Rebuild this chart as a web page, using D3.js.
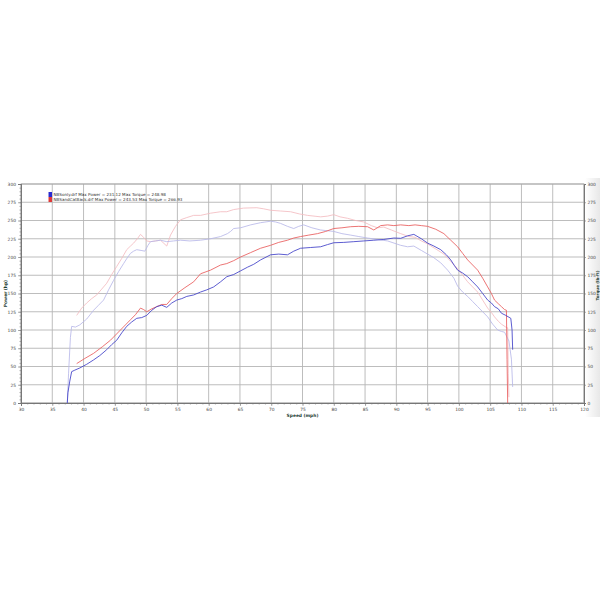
<!DOCTYPE html>
<html>
<head>
<meta charset="utf-8">
<script src="https://cdn.jsdelivr.net/npm/d3@7"></script>
<style>
  body { margin: 0; background: #fff; }
  svg { display: block; }
  text { font-family: "DejaVu Sans", sans-serif; }
</style>
</head>
<body>
<div id="chart"></div>
<script>
// speed (mph) / value pairs
var bluePower = [[37.4,0],[37.5,14],[37.8,30],[38.1,43],[38.6,45],[39.4,48],[40.5,53],[41.6,59],[42.6,65],[43.7,73],[44.5,80],[45.3,86],[46.1,96],[46.9,105],[47.7,111],[48.5,116],[49.3,117],[50.1,120],[50.9,127],[51.7,132],[52.5,134],[53.3,131],[54.1,137],[54.9,141],[55.7,143],[56.5,146],[57.6,148],[58.7,152],[59.7,155],[60.8,159],[61.9,166],[62.9,173],[64,176],[65.1,181],[66.2,186],[67.2,190],[68.3,196],[69.9,203],[71.2,204],[72.6,203],[73.6,208],[74.7,212],[76.3,213],[77.9,214],[79,217],[80,219.5],[81.6,220],[83.2,221],[84.8,222],[86.4,223],[88,224],[89.6,226],[90.7,225.6],[91.8,229],[92.8,231],[94,225],[95,219],[96,215],[97.1,210],[98,203],[98.7,196],[99.3,188],[99.8,182],[100.6,178],[101.4,173],[102.2,166],[103,159],[103.8,150],[104.6,141],[105.2,137],[105.7,132],[106.3,129],[106.8,123],[107.5,120],[108.3,116],[108.5,100],[108.6,73]];

var redPower = [[38.9,54],[40.2,61],[41.6,68],[43,77],[44.3,86],[45.1,93],[45.9,100],[46.7,107],[47.5,114],[48.3,121],[49.1,130],[49.6,128],[50.1,125],[50.9,129],[51.7,132],[52.5,135],[53.3,135],[54.1,143],[54.9,150],[56.2,158],[57.6,166],[58.7,177],[60.3,182],[61.9,189],[62.9,191],[64,195],[65.1,200],[66.7,206],[68.3,212],[69.9,216],[71.2,220],[72.6,223],[73.6,226],[74.7,228],[76,230],[77.4,232],[78.7,235],[80,239],[81.3,240],[82.7,241.5],[84,242],[85.4,241.5],[86.4,237],[87.5,243],[88.6,244],[89.6,243],[90.7,244],[92,243],[93,244],[94,243],[95,242],[96.3,238],[97.6,232],[98.7,223],[99.8,214],[100.6,205],[101.4,196],[102.2,189],[103,182],[103.8,171],[104.6,159],[105.2,150],[105.7,141],[106.3,136],[106.8,132],[107.3,128],[107.6,127],[107.7,60],[107.8,0]];

var blueTorque = [[37.4,0],[37.6,40],[37.9,90],[38.1,105],[38.7,104],[39.4,107],[40.5,115],[41.6,127],[42.4,134],[43.2,141],[44,155],[44.8,168],[45.6,180],[46.4,191],[47,199],[47.5,205],[48,208],[48.5,210],[49.2,209],[49.8,208],[50.3,216],[50.7,221],[51.5,222],[52.3,223],[53.3,221],[54.4,222],[55.5,223],[57,222],[58.7,223],[60.3,225],[61.9,228],[63,232],[63.5,235],[64,239],[65.1,240],[66.7,244],[68.3,247],[69.9,249],[70.7,248],[71.5,246],[72.6,242],[73.6,239],[74.4,242],[75.2,244],[76.5,240],[77.9,237],[79,236],[80,235],[81.3,232],[82.7,230],[84,228],[85.4,226],[87,224],[88.6,222],[90.7,216],[91.8,214],[92.8,215],[94,209],[95,204],[96,199],[97.1,192],[98.2,182],[99.2,171],[99.8,160],[100.6,152],[101.4,146],[102.2,139],[103,132],[103.8,125],[104.6,118],[105.4,108],[106.2,100],[106.8,98],[107.3,97],[108,85],[108.4,60],[108.6,22]];

var redTorque = [[38.9,120],[39.7,130],[40.5,137],[41.3,143],[42.1,148],[42.9,156],[43.7,164],[44.5,176],[45.3,187],[46.1,198],[46.9,210],[47.5,215],[48,219],[48.6,225],[49.1,231],[49.6,227],[50.1,222],[50.7,221],[51.5,222],[52.3,223],[53.3,215],[53.9,230],[54.7,242],[55.5,251],[56.5,254],[57.6,257],[58.7,257],[60.3,260],[61.9,262],[62.9,262],[64,265],[65.6,267],[67.7,267.5],[68.8,266],[69.9,264],[71.5,263],[73.1,262],[74.5,259],[75.8,257],[77.9,255],[79,256],[80,258],[81,255],[82.2,253],[83.5,250],[84.8,248],[86,243],[87,240],[88,241],[89.2,237],[90.7,232],[92,228],[93,227],[94,222],[95,218],[96.3,211],[97.6,204],[98.7,194],[99.8,184],[100.6,175],[101.4,166],[102.2,159],[103,152],[103.8,141],[104.6,130],[105.2,124],[105.7,118],[106.3,112],[106.8,108],[107.5,104],[107.8,103],[107.9,40],[108,8]];

var xTicks = d3.range(30, 121, 5);
var yTicks = d3.range(0, 301, 25);

var legendItems = [
  {name: "NBSonly.drf Max Power = 231.12 Max Torque = 248.98", color: "#2a2ad0"},
  {name: "NBSandCatBack.drf Max Power = 243.53 Max Torque = 266.93", color: "#e03838"}
];

var width = 600, height = 600;
var margin = {top: 184, right: 16, bottom: 197, left: 21};
var w = width - margin.left - margin.right;
var h = height - margin.top - margin.bottom;

var x = d3.scaleLinear().domain([30, 120]).range([0, w]);
var y = d3.scaleLinear().domain([0, 300]).range([h, 0]);

var svg = d3.select("#chart").append("svg")
  .attr("width", width)
  .attr("height", height);

// faint shading to the right of the plot
var grad = svg.append("defs").append("linearGradient")
  .attr("id", "shade").attr("x1", "0").attr("x2", "1");
grad.append("stop").attr("offset", "0").attr("stop-color", "#fff");
grad.append("stop").attr("offset", "1").attr("stop-color", "#e6e6e6");
svg.append("rect")
  .attr("x", margin.left + w + 1).attr("y", margin.top - 6)
  .attr("width", 16).attr("height", h + 20)
  .attr("fill", "url(#shade)");

var g = svg.append("g")
  .attr("transform", "translate(" + margin.left + "," + margin.top + ")");

// grid
g.selectAll(".vgrid").data(xTicks).enter().append("line")
  .attr("x1", function(d) { return x(d); }).attr("x2", function(d) { return x(d); })
  .attr("y1", 0).attr("y2", h)
  .attr("stroke", "#b6b6b6").attr("stroke-width", 0.9);

g.selectAll(".hgrid").data(yTicks).enter().append("line")
  .attr("x1", 0).attr("x2", w)
  .attr("y1", function(d) { return y(d); }).attr("y2", function(d) { return y(d); })
  .attr("stroke", "#b6b6b6").attr("stroke-width", 0.9);

g.append("rect")
  .attr("width", w).attr("height", h)
  .attr("fill", "none").attr("stroke", "#a0a0a0").attr("stroke-width", 0.8);

// axes
var xAxis = d3.axisBottom(x).tickValues(xTicks).tickSize(3).tickPadding(2);
var xMinor = d3.axisBottom(x).tickValues(d3.range(30, 121, 1)).tickSize(1.5).tickFormat("");
var yAxis = d3.axisLeft(y).tickValues(yTicks).tickSize(3).tickPadding(2);
var yMinor = d3.axisLeft(y).tickValues(d3.range(0, 301, 5)).tickSize(1.5).tickFormat("");
var yRight = d3.axisRight(y).tickValues(yTicks).tickSize(2).tickPadding(1.5);

function styleAxis(sel) {
  sel.select(".domain").attr("stroke", "#777").attr("stroke-width", 1);
  sel.selectAll(".tick line").attr("stroke", "#777").attr("stroke-width", 0.6);
  sel.selectAll(".tick text").attr("font-size", 4.4).attr("fill", "#444");
}

g.append("g").attr("transform", "translate(0," + h + ")").call(xMinor).call(styleAxis);
g.append("g").attr("transform", "translate(0," + h + ")").call(xAxis).call(styleAxis);
g.append("g").call(yMinor).call(styleAxis);
g.append("g").call(yAxis).call(styleAxis);
g.append("g").attr("transform", "translate(" + w + ",0)").call(yRight).call(styleAxis);

// axis titles
g.append("text")
  .attr("transform", "translate(-14," + (h / 2) + ") rotate(-90)")
  .attr("text-anchor", "middle")
  .attr("font-size", 4.4).attr("font-weight", "bold").attr("fill", "#1d3d33")
  .text("Power (hp)");

g.append("text")
  .attr("transform", "translate(" + (w + 14.5) + "," + (h / 2 - 8) + ") rotate(-90)")
  .attr("text-anchor", "middle")
  .attr("font-size", 4).attr("font-weight", "bold").attr("fill", "#1d3d33")
  .text("Torque (lb-ft)");

g.append("text")
  .attr("x", x(75)).attr("y", h + 14)
  .attr("text-anchor", "middle")
  .attr("font-size", 4.4).attr("font-weight", "bold").attr("fill", "#1d3d33")
  .text("Speed (mph)");

// curves
var line = d3.line()
  .x(function(d) { return x(d[0]); })
  .y(function(d) { return y(d[1]); });

var series = [
  {data: redTorque,  color: "#f3bcc0", width: 0.85},
  {data: blueTorque, color: "#b8b8e8", width: 0.85},
  {data: redPower,   color: "#e85c5c", width: 0.85},
  {data: bluePower,  color: "#4040c8", width: 0.85}
];

g.selectAll(".curve").data(series).enter().append("path")
  .attr("class", "curve")
  .attr("d", function(d) { return line(d.data); })
  .attr("fill", "none")
  .attr("stroke", function(d) { return d.color; })
  .attr("stroke-width", function(d) { return d.width; })
  .attr("stroke-linejoin", "round");

// legend
var legend = g.append("g").attr("transform", "translate(" + (x(34.4)) + "," + 8 + ")");
legend.selectAll("rect").data(legendItems).enter().append("rect")
  .attr("x", 0).attr("y", function(d, i) { return i * 5; })
  .attr("width", 3.5).attr("height", 5)
  .attr("fill", function(d) { return d.color; });
legend.selectAll("text").data(legendItems).enter().append("text")
  .attr("x", 5).attr("y", function(d, i) { return i * 5 + 3.8; })
  .attr("font-size", 4.1).attr("fill", "#333")
  .text(function(d) { return d.name; });
</script>
</body>
</html>
